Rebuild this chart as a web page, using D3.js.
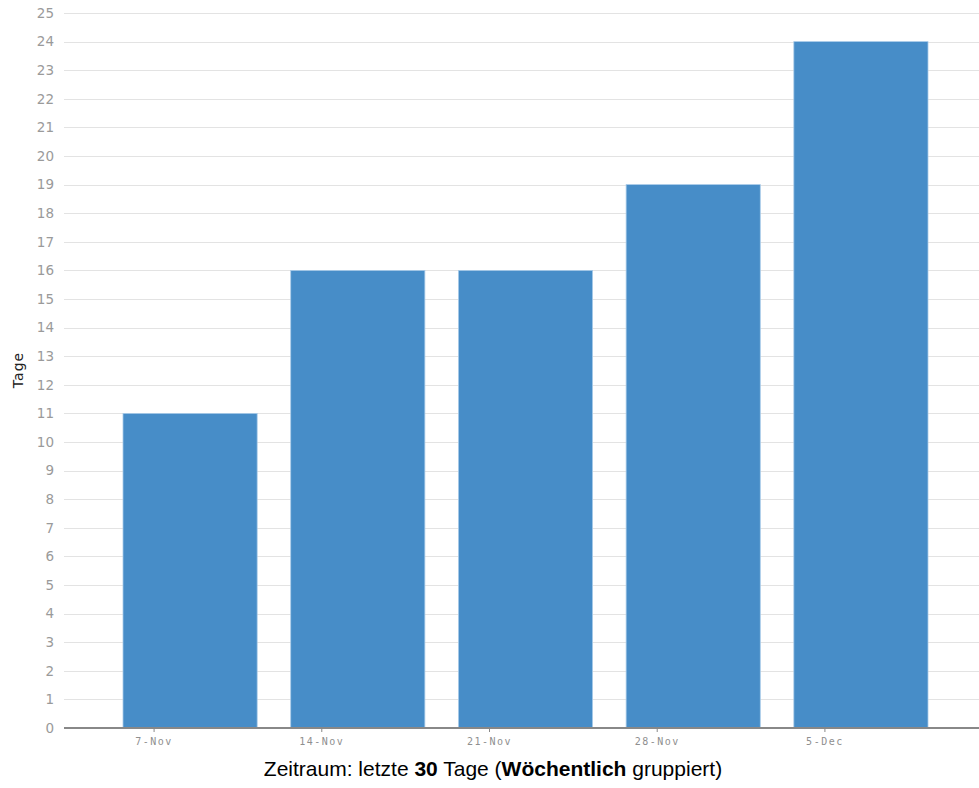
<!DOCTYPE html>
<html>
<head>
<meta charset="UTF-8">
<title>Tage pro Woche</title>
<script src="https://cdn.jsdelivr.net/npm/d3@7"></script>
<style>
  body { margin: 0; background: #fff; }
  svg { display: block; }
  .y-axis text { font-family: "DejaVu Sans", sans-serif; font-size: 13.5px; fill: #9a9a9a; }
  .x-axis text { font-family: "DejaVu Sans Mono", monospace; font-size: 10px; fill: #8f8f8f; letter-spacing: 1.5px; }
  .x-axis line { stroke: #888; }
  .caption { font-family: "Liberation Sans", Arial, sans-serif; font-size: 21px; fill: #000; }
</style>
</head>
<body>
<svg width="979" height="788"></svg>
<script>
const weeks = ["7-Nov", "14-Nov", "21-Nov", "28-Nov", "5-Dec"];
const days = [11, 16, 16, 19, 24];
const yTicks = d3.range(0, 26);

const W = 979, H = 788;
const svg = d3.select("svg");

const y = d3.scaleLinear().domain([0, 25]).range([728, 13]);
const x = d3.scaleBand().domain(weeks).range([123, 928]).paddingInner(0.2).paddingOuter(0);

// gridlines
svg.append("g")
  .selectAll("line")
  .data(yTicks)
  .enter()
  .append("line")
  .attr("x1", 64)
  .attr("x2", W)
  .attr("y1", d => Math.round(y(d)) + 0.5)
  .attr("y2", d => Math.round(y(d)) + 0.5)
  .attr("stroke", "#e3e3e3")
  .attr("stroke-width", 1);

// y labels
const yAxis = svg.append("g")
  .attr("class", "y-axis")
  .attr("transform", "translate(54,0)")
  .call(d3.axisLeft(y).tickValues(yTicks).tickSize(0).tickPadding(0));
yAxis.select(".domain").remove();

// bars
svg.append("g")
  .selectAll("rect")
  .data(weeks)
  .enter()
  .append("rect")
  .attr("x", d => x(d))
  .attr("y", (d, i) => y(days[i]))
  .attr("width", x.bandwidth())
  .attr("height", (d, i) => y(0) - y(days[i]))
  .attr("fill", "#478dc8")
  .attr("stroke", "#a9cbe9")
  .attr("stroke-width", 0.8);

// baseline
svg.append("line")
  .attr("x1", 64)
  .attr("x2", W)
  .attr("y1", y(0))
  .attr("y2", y(0))
  .attr("stroke", "#888")
  .attr("stroke-width", 2);

// x axis (ticks sit a bit left of bar centres)
const xAxis = svg.append("g")
  .attr("class", "x-axis")
  .attr("transform", "translate(-36," + (y(0) + 1) + ")")
  .call(d3.axisBottom(x).tickSize(3).tickPadding(6));
xAxis.select(".domain").remove();

// y title
svg.append("text")
  .attr("transform", "translate(23,370) rotate(-90)")
  .attr("text-anchor", "middle")
  .style("font-family", "DejaVu Sans, sans-serif")
  .style("font-size", "14px")
  .style("letter-spacing", "1px")
  .style("fill", "#222")
  .text("Tage");

// caption
const cap = svg.append("text")
  .attr("class", "caption")
  .attr("x", 493)
  .attr("y", 776)
  .attr("text-anchor", "middle");
cap.append("tspan").text("Zeitraum: letzte ");
cap.append("tspan").style("font-weight", "bold").text("30");
cap.append("tspan").text(" Tage (");
cap.append("tspan").style("font-weight", "bold").text("Wöchentlich");
cap.append("tspan").text(" gruppiert)");
</script>
</body>
</html>
